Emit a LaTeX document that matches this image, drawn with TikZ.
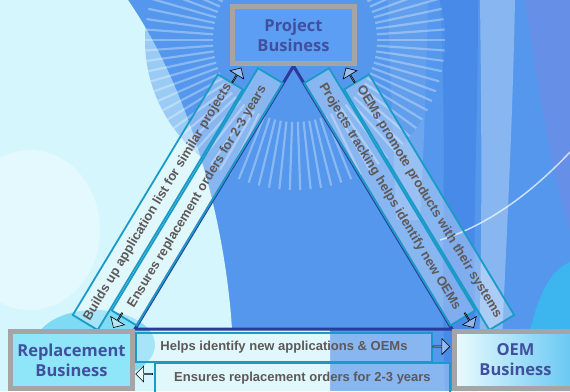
\documentclass[tikz,border=0pt]{standalone}
\usepackage{fontspec}
\setmainfont{Liberation Sans}
\newfontfamily\titlefont{Open Sans}
\usetikzlibrary{positioning,shapes.arrows,calc}

\definecolor{bgblue}{HTML}{5497EC}
\definecolor{bgdark}{HTML}{3B7BE2}
\definecolor{bgpurple}{HTML}{6E8DE6}
\definecolor{bgcyan}{HTML}{38BDF0}
\definecolor{bglight}{HTML}{D4F6FC}
\definecolor{blobcyan}{HTML}{6AD4F2}
\definecolor{bandline}{HTML}{1A9BC7}
\definecolor{bandtext}{HTML}{5E5858}
\definecolor{triline}{HTML}{2A3C9B}
\definecolor{boxgray}{HTML}{A5A5A5}
\definecolor{titletext}{HTML}{41509E}
\definecolor{projfill}{HTML}{5C9EF3}
\definecolor{replfill}{HTML}{8FE6F8}
\definecolor{oemleft}{HTML}{EAFBFE}
\definecolor{oemright}{HTML}{63C6F2}

\begin{document}
\begin{tikzpicture}[x=1pt, y=-1pt,
    biz/.style={draw=boxgray, line width=5pt, minimum width=122pt, minimum height=57pt, inner sep=0pt, align=center, text=titletext, font=\titlefont\bfseries\fontsize{16.5}{20}\selectfont},
    band/.style={draw=bandline, line width=1.8pt, fill=white, fill opacity=0.3, text opacity=1, text=bandtext, minimum height=29pt, inner sep=0pt, font=\bfseries\fontsize{13}{15}\selectfont},
    flow/.style={single arrow, draw=black, line width=0.6pt, fill=white, fill opacity=0.4, minimum height=17pt, minimum width=16pt, single arrow head extend=3.5pt, inner sep=0pt},
    stripe/.style={white, opacity=0.32, line width=2.2pt}]
    \useasboundingbox (0,0) rectangle (570,391);

    % background
    \fill[bgblue] (0,0) rectangle (570,391);
    \fill[bgpurple, opacity=0.7] (525,0) .. controls (540,100) and (555,190) .. (570,230) -- (570,0) -- cycle;
    \fill[bgdark, opacity=0.45] (440,0) -- (478,0) .. controls (478,150) and (470,250) .. (478,391) -- (445,391) .. controls (440,250) and (448,150) .. (440,0) -- cycle;
    \fill[white, opacity=0.3] (480,0) -- (515,0) .. controls (512,150) and (505,260) .. (500,391) -- (478,391) .. controls (482,260) and (482,150) .. (480,0) -- cycle;
    \fill[white, opacity=0.15] (388,0) -- (428,0) .. controls (426,80) and (424,150) .. (420,220) -- (396,220) .. controls (394,150) and (390,80) .. (388,0) -- cycle;
    \fill[bgcyan, opacity=0.8] (520,391) .. controls (530,300) and (550,270) .. (570,262) -- (570,391) -- cycle;
    \draw[white, opacity=0.7, line width=1.5pt] (440,240) .. controls (480,228) and (525,200) .. (570,152);
    \fill[bglight] (0,0) -- (128,0) .. controls (190,90) and (225,220) .. (232,329) -- (330,329) -- (330,391) -- (0,391) -- cycle;
    \fill[white, opacity=0.35] (30,230) ellipse (70 and 80);
    \fill[blobcyan, opacity=0.8] (95,345) ellipse (60 and 35);
    \coordinate (fanc) at (295,40);
    \fill[bgblue, opacity=0.45, even odd rule] (fanc) circle[radius=150] (fanc) circle[radius=80];
    \foreach \a in {0,4,...,356}
        \draw[stripe] ($(fanc)+(\a:82)$) -- ($(fanc)+(\a:150)$);

    \coordinate (apex) at (293.5,66);
    \coordinate (lc) at (135,329);
    \coordinate (rc) at (452,329);
    \draw[triline, line width=3pt, line join=miter] (apex) -- (lc) -- (rc) -- cycle;

    \node[band, rotate=58.9, minimum width=281pt] (buildsup) at (157.8,202.2) {Builds up application list for similar projects};
    \node[band, rotate=58.9, minimum width=283pt] (ensleft) at (197.3,196.8) {Ensures replacement orders for 2-3 years};
    \node[band, rotate=-58.9, minimum width=283pt] (tracking) at (389.7,196.8) {Projects tracking helps identify new OEMs};
    \node[band, rotate=-58.9, minimum width=281pt] (promote) at (429.2,202.2) {OEMs promote products with their systems};
    \node[band, minimum width=296pt] (helps) at (284,347.2) {Helps identify new applications \& OEMs};
    \node[band, minimum width=295pt, minimum height=30pt] (ensbot) at (302.5,378) {Ensures replacement orders for 2-3 years};

    \node[biz, fill=projfill, above=0pt of apex] (proj) {Project\\Business};
    \node[biz, fill=replfill, below left=0pt of lc] (repl) {Replacement\\Business};
    \node[biz, left color=oemleft, right color=oemright, below right=0pt of rc] (oem) {OEM\\Business};

    \node[flow, rotate=58.9] (toproj1) at (236.5,75.5) {};
    \node[flow, rotate=238.9] (torepl1) at (118,320) {};
    \node[flow, rotate=121.1] (toproj2) at (350.5,75.5) {};
    \node[flow, rotate=-58.9] (tooem1) at (469,320) {};
    \node[flow] (tooem2) at (441,346.5) {};
    \node[flow, rotate=180] (torepl2) at (144.5,374) {};
\end{tikzpicture}
\end{document}
